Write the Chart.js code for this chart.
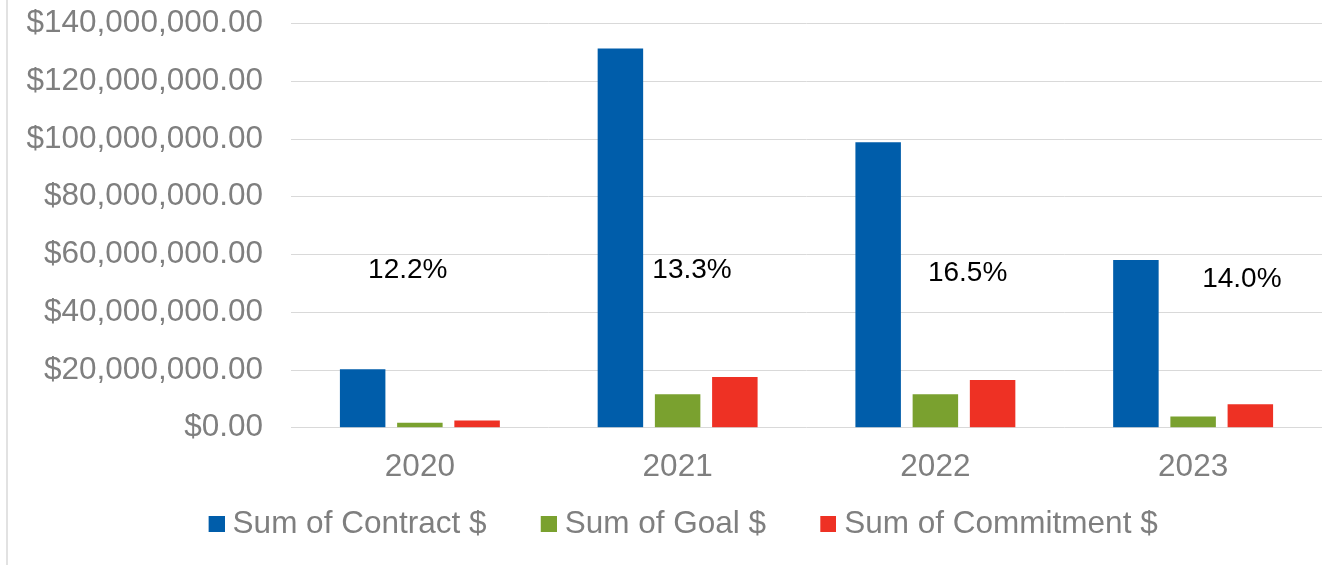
<!DOCTYPE html>
<html><head><meta charset="utf-8">
<script src="https://cdn.jsdelivr.net/npm/chart.js@4/dist/chart.umd.min.js"></script>
<style>html,body{margin:0;padding:0;background:#fff;}#wrap{position:relative;width:1329px;height:565px;}canvas{display:block;}</style>
</head><body><div id="wrap"><canvas id="c" width="1329" height="565"></canvas></div>
<script>
// ---- data ----
const years = ['2020', '2021', '2022', '2023'];
const contractValues = [20300000, 131300000, 98900000, 58100000];
const goalValues = [1700000, 11600000, 11600000, 3900000];
const commitmentValues = [2500000, 17600000, 16500000, 8100000];
const ratioLabels = ['12.2%', '13.3%', '16.5%', '14.0%'];
const seriesNames = ['Sum of Contract $', 'Sum of Goal $', 'Sum of Commitment $'];
const yMin = 0, yMax = 140000000, yStep = 20000000;

// ---- styling ----
const colors = ['#005DAA', '#7AA12F', '#EE3124'];
const gray = '#7F7F7F';
const FONT = "'Liberation Sans', Arial, sans-serif";
const LEGEND_SIZE = 31.5;
const SWATCH_BOX = 52.5;

function makeSwatch(color) {
  const w = Math.round(SWATCH_BOX + LEGEND_SIZE / 2 - 0.25);
  const c = document.createElement('canvas');
  c.width = w; c.height = 16;
  const g = c.getContext('2d');
  g.fillStyle = color;
  g.fillRect(w - 16, 0, 16, 16);
  return c;
}
const swatches = colors.map(makeSwatch);

const fmtMoney = v => '$' + Number(v).toLocaleString('en-US', {minimumFractionDigits: 2, maximumFractionDigits: 2});

const ratioPlugin = {
  id: 'ratioLabels',
  afterDatasetsDraw(chart, args, opts) {
    const {ctx, scales: {x, y}} = chart;
    ctx.save();
    ctx.font = '28px ' + FONT;
    ctx.fillStyle = '#000';
    ctx.textAlign = 'center';
    ctx.textBaseline = 'middle';
    ratioLabels.forEach((t, i) => {
      const a = opts.anchors[i];
      ctx.fillText(t, x.getPixelForValue(i + a.dx), y.getPixelForValue(a.y));
    });
    ctx.restore();
  }
};

const framePlugin = {
  id: 'frame',
  beforeDraw(chart) {
    const ctx = chart.ctx;
    ctx.save();
    ctx.fillStyle = '#fff';
    ctx.fillRect(0, 0, chart.width, chart.height);
    ctx.strokeStyle = '#D9D9D9';
    ctx.lineWidth = 1.5;
    ctx.beginPath();
    ctx.moveTo(7, 0);
    ctx.lineTo(7, chart.height);
    ctx.stroke();
    ctx.restore();
  }
};

const valueSets = [contractValues, goalValues, commitmentValues];

new Chart(document.getElementById('c'), {
  type: 'bar',
  data: {
    labels: years,
    datasets: seriesNames.map((n, i) => ({
      label: n,
      data: valueSets[i],
      backgroundColor: colors[i],
      borderWidth: 0,
      categoryPercentage: 0.666,
      barPercentage: 0.795
    }))
  },
  options: {
    responsive: false,
    animation: false,
    devicePixelRatio: 1,
    layout: {padding: {top: 23.5, right: 7, bottom: 15, left: 0}},
    scales: {
      x: {
        grid: {display: false},
        border: {display: false},
        ticks: {color: gray, font: {family: FONT, size: 31.5}, padding: 13},
        afterFit(s) { s.height = 70.75; }
      },
      y: {
        min: yMin, max: yMax,
        grid: {color: '#D9D9D9', lineWidth: 1, drawTicks: false},
        border: {display: false},
        ticks: {stepSize: yStep, color: gray, font: {family: FONT, size: 31.5}, padding: 28, callback: v => fmtMoney(v)},
        afterFit(s) { s.width = 291; s.paddingTop = 19; s.paddingBottom = 19; }
      }
    },
    plugins: {
      legend: {
        position: 'bottom',
        labels: {
          color: gray,
          font: {family: FONT, size: LEGEND_SIZE, lineHeight: 1},
          usePointStyle: true,
          pointStyleWidth: SWATCH_BOX,
          boxHeight: 16,
          padding: 10,
          generateLabels(chart) {
            const items = Chart.defaults.plugins.legend.labels.generateLabels(chart);
            items.forEach((it, i) => { it.pointStyle = swatches[i]; });
            return items;
          }
        }
      },
      tooltip: {enabled: false},
      ratioLabels: {
        anchors: [
          {dx: -0.047, y: 54600000},
          {dx: 0.056, y: 54600000},
          {dx: 0.125, y: 53600000},
          {dx: 0.189, y: 51300000}
        ]
      }
    }
  },
  plugins: [framePlugin, ratioPlugin]
});
</script></body></html>
